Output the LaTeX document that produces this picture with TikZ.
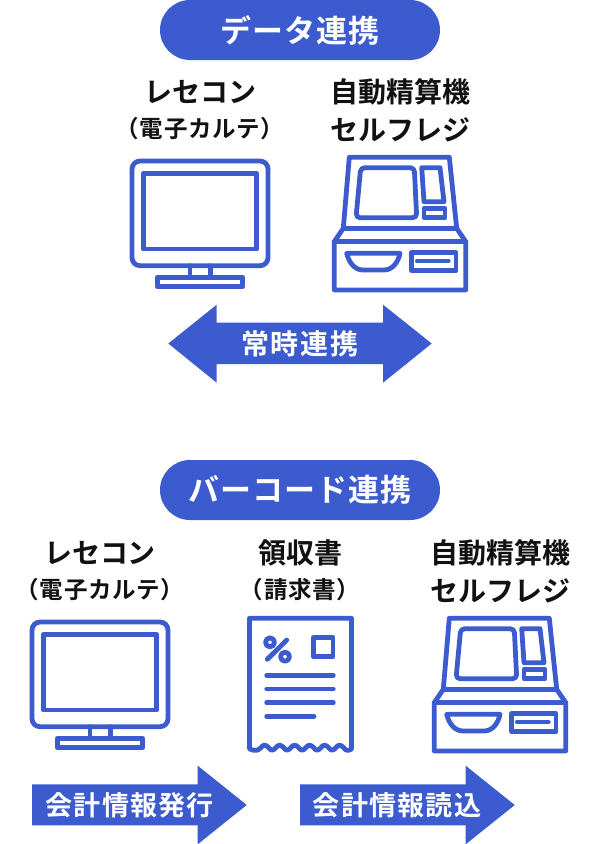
\documentclass[tikz,border=0pt]{standalone}
\usepackage{fontspec}
\newfontfamily\cjkb{Noto Sans CJK JP}[UprightFont=* Bold]
\definecolor{brand}{HTML}{3B5BCF}
\definecolor{ink}{HTML}{111111}
\newcommand{\monitoricon}[2]{%
\begin{scope}[shift={(#1,#2)},icon]
\draw[rounded corners=8] (132,161) rectangle (268,265.7);
\draw (143.3,173.3) rectangle (256.7,249);
\draw (190,265.7) -- (190,277.3) (210.7,265.7) -- (210.7,277.3);
\draw (157.3,277.3) rectangle (242.7,286.7);
\end{scope}}
\newcommand{\kioskicon}[2]{%
\begin{scope}[shift={(#1,#2)},icon]
\draw (349.3,157.3) -- (449.3,157.3) -- (456.7,228.3) -- (465.7,241.7) -- (465.7,290) -- (334.3,290) -- (334.3,241.7) -- (343.3,228.3) -- cycle;
\draw (343.3,228.3) -- (456.7,228.3) (334.3,241.7) -- (465.7,241.7);
\draw[rounded corners=4] (360.7,167.7) -- (414.3,167.7) -- (416.7,217.7) -- (356,217.7) -- cycle;
\draw (421.7,167.7) -- (440,167.7) -- (444,201.7) -- (424,201.7) -- cycle;
\draw (424,208.3) rectangle (445,217.7);
\draw (346.7,253.3) -- (400,253.3) .. controls (398,263) and (392,270) .. (384,270) -- (363,270) .. controls (355,270) and (349,263) .. (346.7,253.3) -- cycle;
\draw (411.7,252.7) rectangle (456,270.7);
\draw (417.3,261) -- (448.3,261);
\end{scope}}
\tikzset{
 icon/.style={draw=brand,line width=4.8,line join=round,line cap=round},
 pill/.style={fill=brand,rounded corners=30},
 band/.style={fill=brand},
 title/.style={text=white,font=\cjkb\fontsize{31}{35}\selectfont\addfontfeature{LetterSpace=3},inner sep=0},
 bandtext/.style={text=white,font=\cjkb\fontsize{27}{30}\selectfont\addfontfeature{LetterSpace=4.5},inner sep=0},
 widetext/.style={text=white,font=\cjkb\fontsize{28}{30}\selectfont\addfontfeature{LetterSpace=7},inner sep=0},
 head/.style={text=ink,font=\cjkb\fontsize{28}{32}\selectfont,inner sep=0},
 sub/.style={text=ink,font=\cjkb\fontsize{23.5}{26}\selectfont\addfontfeature{LetterSpace=3},inner sep=0},
}
\begin{document}
\begin{tikzpicture}[x=1pt,y=-1pt]
\useasboundingbox (0,0) rectangle (600,844);
\fill[white] (0,0) rectangle (600,844);
% top section
\fill[pill] (160,0) rectangle (440,60);
\node[title] (t1) at (300,30) {データ連携};
\node[head] (a1) at (200,92) {レセコン};
\node[sub] (a2) at (200,128.5) {（電子カルテ）};
\node[head] (a3) at (400,92) {自動精算機};
\node[head] (a4) at (400,130) {セルフレジ};
\monitoricon{0}{0}
\kioskicon{0}{0}
\fill[band] (168.3,343.5) -- (216.7,304.7) -- (216.7,322.7) -- (383,322.7) -- (383,304.7) -- (431.7,343.5) -- (383,382.7) -- (383,364) -- (216.7,364) -- (216.7,382.7) -- cycle;
\node[widetext] (b1) at (300,344) {常時連携};
% bottom section
\fill[pill] (160,460) rectangle (440,520);
\node[title] (t2) at (300,490) {バーコード連携};
\node[head] (c1) at (100,553) {レセコン};
\node[sub] (c2) at (100,589.5) {（電子カルテ）};
\node[head] (c3) at (300,553) {領収書};
\node[sub] (c4) at (300,589.5) {（請求書）};
\node[head] (c5) at (500,553) {自動精算機};
\node[head] (c6) at (500,591) {セルフレジ};
\monitoricon{-100}{461}
\kioskicon{100}{461}
% receipt
\begin{scope}[icon]
\draw (249.5,749) -- (249.5,618.3) -- (351.5,618.3) -- (351.5,749)
  .. controls (348,751) and (346,751) .. (343.5,747.5)
  .. controls (341,744.5) and (338,744.5) .. (336,747.5)
  .. controls (333,751) and (331,751) .. (328.5,747.5)
  .. controls (326,744.5) and (323,744.5) .. (321,747.5)
  .. controls (318,751) and (316,751) .. (313.5,747.5)
  .. controls (311,744.5) and (308,744.5) .. (306,747.5)
  .. controls (303,751) and (301,751) .. (298.5,747.5)
  .. controls (296,744.5) and (293,744.5) .. (291,747.5)
  .. controls (288,751) and (286,751) .. (283.5,747.5)
  .. controls (281,744.5) and (278,744.5) .. (276,747.5)
  .. controls (273,751) and (271,751) .. (268.5,747.5)
  .. controls (266,744.5) and (263,744.5) .. (261,747.5)
  .. controls (258,751) and (255,751) .. (249.5,749) -- cycle;
\draw (270,642.3) circle[radius=4.5] (285,656.7) circle[radius=4.5];
\draw (286.7,640) -- (267.3,659.3);
\draw (313.3,637.7) rectangle (333,656.7);
\draw (266.7,675.3) -- (333.3,675.3) (266.7,689) -- (333.3,689) (266.7,702.7) -- (333.3,702.7) (266.7,716.3) -- (314,716.3);
\end{scope}
% arrows
\fill[band] (32,784.3) -- (197.7,784.3) -- (197.7,765.7) -- (246.7,805) -- (197.7,844.3) -- (197.7,825.3) -- (32,825.3) -- cycle;
\node[bandtext] (d1) at (129.7,805) {会計情報発行};
\fill[band] (300,784.3) -- (465.7,784.3) -- (465.7,765.7) -- (514.7,805) -- (465.7,844.3) -- (465.7,825.3) -- (300,825.3) -- cycle;
\node[bandtext] (d2) at (397,805) {会計情報読込};
\end{tikzpicture}
\end{document}
